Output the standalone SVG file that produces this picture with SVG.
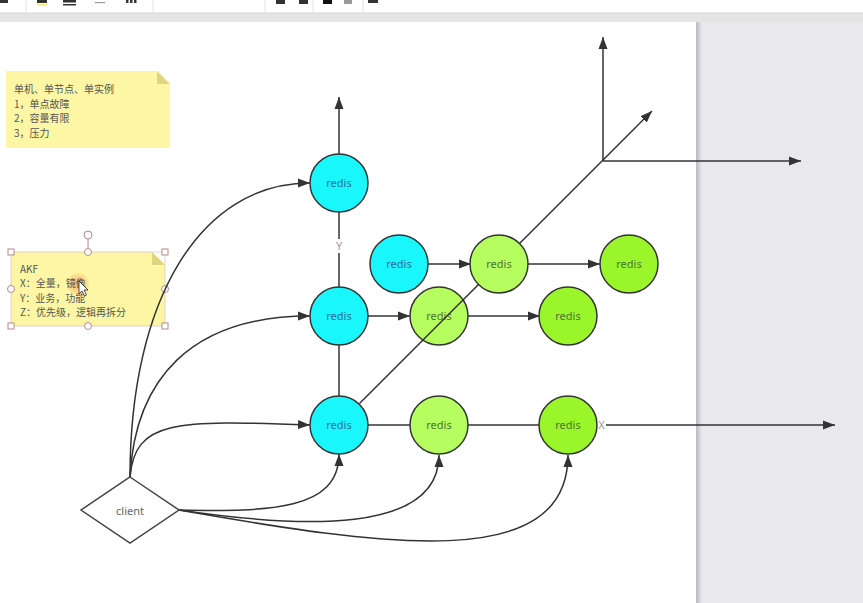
<svg xmlns="http://www.w3.org/2000/svg" width="863" height="603" viewBox="0 0 863 603">
<defs>
<style>
.edge{fill:none;stroke:#333;stroke-width:1.5}
.arr{marker-end:url(#arr)}
.node circle{stroke:#333;stroke-width:1.5}
.cy{fill:#19f7fd}
.lg{fill:#b6fd5f}
.dg{fill:#9af52a}
.lbl{font-family:'Noto Sans','Liberation Sans',sans-serif;font-size:11px;text-anchor:middle}
.tcy{fill:#2a6c9c}
.tg{fill:#4b7530}
.note{fill:#fdf6a4}
.fold{fill:#ddd67f}
.nt{font-family:'Noto Sans CJK SC','Noto Sans',sans-serif;font-size:10px;fill:#555}
.ax{font-family:'Noto Sans','Liberation Sans',sans-serif;font-size:11px;fill:#999;text-anchor:middle}
.h{fill:#fff;stroke:#b88a8a;stroke-width:1}
</style>
<marker id="arr" viewBox="0 0 12 10" refX="12" refY="5" markerWidth="12" markerHeight="10" markerUnits="userSpaceOnUse" orient="auto">
<path d="M0,0.5 L12,5 L0,9.5 z" fill="#333"/>
</marker>
<linearGradient id="sh" x1="0" y1="0" x2="1" y2="0">
<stop offset="0" stop-color="#b9b9bd"/>
<stop offset="1" stop-color="#e9e9ed"/>
</linearGradient>
<radialGradient id="glow">
<stop offset="0" stop-color="#f39a55" stop-opacity="0.85"/>
<stop offset="1" stop-color="#f5b070" stop-opacity="0.2"/>
</radialGradient>
</defs>

<!-- background -->
<rect x="0" y="0" width="863" height="603" fill="#ffffff"/>
<rect x="697" y="22" width="166" height="581" fill="#e9e9ed"/>
<rect x="696" y="22" width="6" height="581" fill="url(#sh)"/>
<rect x="0" y="13" width="863" height="9" fill="#e4e4e4"/>
<line x1="0" y1="13" x2="863" y2="13" stroke="#d6d6d6" stroke-width="1"/>
<g fill="#333">
<rect x="0" y="0" width="8" height="3"/>
<rect x="37" y="0" width="10" height="3"/>
<rect x="37" y="4" width="10" height="1.5" fill="#f2e27a"/>
<rect x="63" y="0" width="13" height="2.5"/>
<rect x="63" y="4" width="13" height="1.5"/>
<rect x="95" y="2" width="10" height="1.2" fill="#999"/>
<rect x="126" y="0" width="2.5" height="3"/>
<rect x="130" y="0" width="2.5" height="3"/>
<rect x="134" y="0" width="2.5" height="3"/>
<rect x="276" y="0" width="9" height="4"/>
<rect x="299" y="0" width="9" height="4"/>
<rect x="323" y="0" width="9" height="4" fill="#111"/>
<rect x="344" y="0" width="8" height="4" fill="#999"/>
<rect x="368" y="0" width="10" height="3"/>
</g>
<g stroke="#e0e0e0" stroke-width="1">
<line x1="26" y1="0" x2="26" y2="12"/>
<line x1="153" y1="0" x2="153" y2="12"/>
<line x1="265" y1="0" x2="265" y2="12"/>
<line x1="313" y1="0" x2="313" y2="12"/>
<line x1="363" y1="0" x2="363" y2="12"/>
</g>

<!-- sticky note 1 -->
<g id="note-single">
<path class="note" d="M6,71 L157,71 L170,84 L170,148 L6,148 Z"/>
<path class="fold" d="M157,71 L157,84 L170,84 Z"/>
<text class="nt" x="14" y="93">单机、单节点、单实例</text>
<text class="nt" x="14" y="107.5">1，单点故障</text>
<text class="nt" x="14" y="122">2，容量有限</text>
<text class="nt" x="14" y="136.5">3，压力</text>
</g>

<!-- sticky note 2 (selected) -->
<g id="note-akf">
<path class="note" d="M11,252 L152,252 L165,265 L165,326 L11,326 Z"/>
<path class="fold" d="M152,252 L152,265 L165,265 Z"/>
<rect x="11" y="252" width="154" height="74" fill="none" stroke="#e2c4c4" stroke-width="0.8"/>
<circle cx="78" cy="284" r="11" fill="url(#glow)"/>
<text class="nt" x="20" y="272.5">AKF</text>
<text class="nt" x="20" y="287">X：全量，镜像</text>
<text class="nt" x="20" y="301.5">Y：业务，功能</text>
<text class="nt" x="20" y="316">Z：优先级，逻辑再拆分</text>
<path d="M79,281 L79,294 L82,291 L84.5,296 L86.5,295 L84,290 L88,290 Z" fill="#fff" stroke="#222" stroke-width="0.8"/>
<line x1="88" y1="239" x2="88" y2="249" stroke="#b88a8a" stroke-width="1"/>
<circle class="h" cx="88" cy="235" r="4"/>
<rect class="h" x="8" y="249" width="6" height="6"/>
<rect class="h" x="162" y="249" width="6" height="6"/>
<rect class="h" x="8" y="323" width="6" height="6"/>
<rect class="h" x="162" y="323" width="6" height="6"/>
<circle class="h" cx="88" cy="252" r="3.5"/>
<circle class="h" cx="88" cy="326" r="3.5"/>
<circle class="h" cx="11" cy="289" r="3.5"/>
<circle class="h" cx="165" cy="289" r="3.5"/>
</g>

<!-- node under the diagonal -->
<g id="redis-x1y1" class="node">
<circle class="lg" cx="439" cy="316" r="29"/>
<text class="lbl tg" x="439" y="320">redis</text>
</g>

<!-- connectors -->
<g id="connectors">
<path class="edge arr" d="M339,154 L339,97"/>
<path class="edge" d="M339,212 L339,287"/>
<path class="edge" d="M339,345 L339,396"/>
<path class="edge" d="M368,425 L410,425"/>
<path class="edge" d="M468,425 L540,425"/>
<path class="edge arr" d="M597,425 L835,425"/>
<path class="edge arr" d="M368,316 L410,316"/>
<path class="edge arr" d="M468,316 L540,316"/>
<path class="edge arr" d="M428,264 L471,264"/>
<path class="edge arr" d="M528,264 L600,264"/>
<path class="edge arr" d="M359.5,403.5 L652,111"/>
<path class="edge arr" d="M603,161 L603,37"/>
<path class="edge arr" d="M603,161 L801,161"/>
<path class="edge arr" d="M130,477 C130,300 200,183 310,183"/>
<path class="edge arr" d="M130,477 C135,380 190,316 310,316"/>
<path class="edge arr" d="M130,477 C135,420 175,420 310,425"/>
<path class="edge arr" d="M179,510 C270,512 339,510 339,454"/>
<path class="edge arr" d="M179,510 C300,528 439,535 439,455"/>
<path class="edge arr" d="M179,510 C380,545 568,575 568,455"/>
<rect x="333" y="239" width="12" height="14" fill="#fff"/>
<text class="ax" x="339" y="250">Y</text>
<rect x="597" y="418" width="9" height="14" fill="#fff"/>
<text class="ax" x="601.5" y="429">X</text>
</g>

<!-- client -->
<g id="client">
<path d="M130,477 L179,510 L130,543 L81,510 Z" fill="#fff" stroke="#444" stroke-width="1.5"/>
<text class="lbl" x="130" y="515" fill="#666">client</text>
</g>

<!-- redis nodes -->
<g id="redis-y2" class="node">
<circle class="cy" cx="339" cy="183" r="29"/>
<text class="lbl tcy" x="339" y="187">redis</text>
</g>
<g id="redis-y1" class="node">
<circle class="cy" cx="339" cy="316" r="29"/>
<text class="lbl tcy" x="339" y="320">redis</text>
</g>
<g id="redis-origin" class="node">
<circle class="cy" cx="339" cy="425" r="29"/>
<text class="lbl tcy" x="339" y="429">redis</text>
</g>
<g id="redis-x1" class="node">
<circle class="lg" cx="439" cy="425" r="29"/>
<text class="lbl tg" x="439" y="429">redis</text>
</g>
<g id="redis-x2" class="node">
<circle class="dg" cx="568" cy="425" r="29"/>
<text class="lbl tg" x="568" y="429">redis</text>
</g>
<g id="redis-x2y1" class="node">
<circle class="dg" cx="568" cy="316" r="29"/>
<text class="lbl tg" x="568" y="320">redis</text>
</g>
<g id="redis-z1" class="node">
<circle class="cy" cx="399" cy="264" r="29"/>
<text class="lbl tcy" x="399" y="268">redis</text>
</g>
<g id="redis-z1x1" class="node">
<circle class="lg" cx="499" cy="264" r="29"/>
<text class="lbl tg" x="499" y="268">redis</text>
</g>
<g id="redis-z1x2" class="node">
<circle class="dg" cx="629" cy="264" r="29"/>
<text class="lbl tg" x="629" y="268">redis</text>
</g>
</svg>
